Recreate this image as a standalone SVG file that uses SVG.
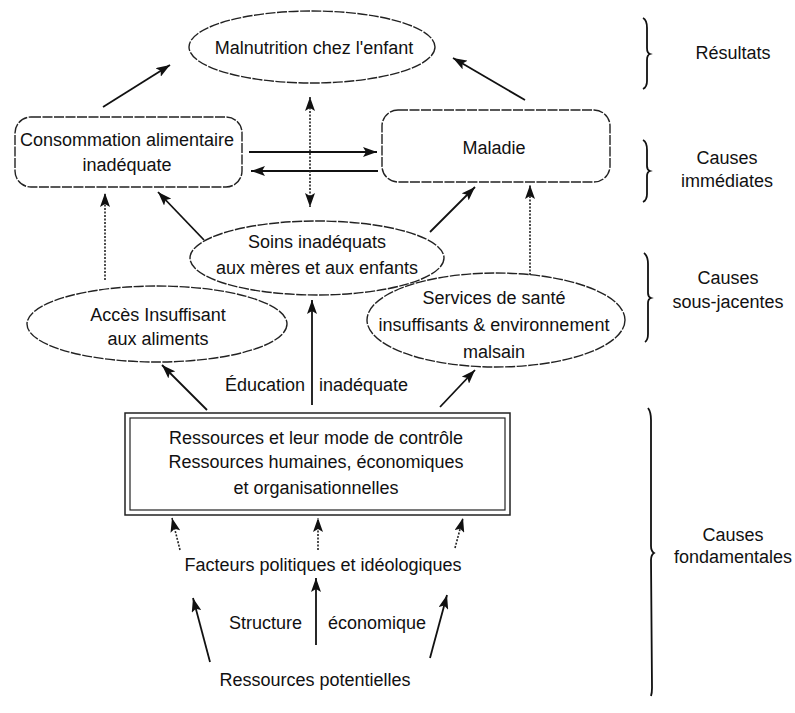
<svg xmlns="http://www.w3.org/2000/svg" width="795" height="713" viewBox="0 0 795 713">
<defs>
<style>
text{font-family:"Liberation Sans",Arial,sans-serif;font-size:18px;fill:#111;text-anchor:middle}
.sh{fill:none;stroke:#222;stroke-width:1.4;stroke-dasharray:10 1.5}
.ln{fill:none;stroke:#111;stroke-width:1.8}
.dt{fill:none;stroke:#222;stroke-width:1.6;stroke-dasharray:2 1.5}
.br{fill:none;stroke:#111;stroke-width:1.8}
</style>
<marker id="ah" viewBox="0 0 14 10" refX="14" refY="5" markerWidth="14" markerHeight="10" markerUnits="userSpaceOnUse" orient="auto-start-reverse">
<path d="M0,0 L14,5 L0,10 L3,5 z" fill="#111"/>
</marker>
</defs>
<rect width="795" height="713" fill="#fff"/>

<g id="connectors">
<line class="ln" x1="103" y1="107" x2="170" y2="65" marker-end="url(#ah)"/>
<line class="ln" x1="525" y1="100" x2="453" y2="58" marker-end="url(#ah)"/>
<line class="ln" x1="249" y1="152" x2="377" y2="152" marker-end="url(#ah)"/>
<line class="ln" x1="378" y1="171" x2="251" y2="171" marker-end="url(#ah)"/>
<line class="dt" x1="310" y1="97" x2="310" y2="207" marker-start="url(#ah)" marker-end="url(#ah)"/>
<line class="ln" x1="204" y1="240" x2="158" y2="192" marker-end="url(#ah)"/>
<line class="ln" x1="430" y1="232" x2="475" y2="187" marker-end="url(#ah)"/>
<line class="dt" x1="105" y1="280" x2="105" y2="193" marker-end="url(#ah)"/>
<line class="dt" x1="530" y1="275" x2="530" y2="185" marker-end="url(#ah)"/>
<line class="ln" x1="207" y1="410" x2="162" y2="365" marker-end="url(#ah)"/>
<line class="ln" x1="312" y1="405" x2="312" y2="300" marker-end="url(#ah)"/>
<line class="ln" x1="440" y1="407" x2="475" y2="370" marker-end="url(#ah)"/>
<line class="dt" x1="180" y1="550" x2="172" y2="518" marker-end="url(#ah)"/>
<line class="dt" x1="318" y1="550" x2="318" y2="518" marker-end="url(#ah)"/>
<line class="dt" x1="455" y1="548" x2="463" y2="518" marker-end="url(#ah)"/>
<line class="ln" x1="210" y1="662" x2="193" y2="598" marker-end="url(#ah)"/>
<line class="ln" x1="316" y1="645" x2="316" y2="578" marker-end="url(#ah)"/>
<line class="ln" x1="430" y1="658" x2="447" y2="595" marker-end="url(#ah)"/>
</g>

<g id="malnutrition">
<ellipse class="sh" cx="312" cy="47" rx="123" ry="36"/>
<text x="314" y="54">Malnutrition chez l'enfant</text>
</g>

<g id="consommation">
<rect class="sh" x="15" y="117" width="227" height="70" rx="16"/>
<text x="127" y="146">Consommation alimentaire</text>
<text x="127" y="171">inadéquate</text>
</g>

<g id="maladie">
<rect class="sh" x="382" y="110" width="228" height="72" rx="16"/>
<text x="494" y="154">Maladie</text>
</g>

<g id="soins">
<ellipse class="sh" cx="317" cy="258" rx="127" ry="37"/>
<text x="317" y="248">Soins inadéquats</text>
<text x="317" y="274">aux mères et aux enfants</text>
</g>

<g id="acces">
<ellipse class="sh" cx="157" cy="324" rx="130" ry="38"/>
<text x="158" y="321">Accès Insuffisant</text>
<text x="158" y="345">aux aliments</text>
</g>

<g id="services">
<ellipse class="sh" cx="496" cy="320" rx="129" ry="47"/>
<text x="494" y="304">Services de santé</text>
<text x="494" y="331">insuffisants &amp; environnement</text>
<text x="494" y="358">malsain</text>
</g>

<g id="education">
<text x="305" y="391" style="text-anchor:end">Éducation</text>
<text x="319" y="391" style="text-anchor:start">inadéquate</text>
</g>

<g id="ressources">
<rect x="125" y="413" width="385" height="102" fill="none" stroke="#222" stroke-width="1.5"/>
<rect x="130" y="418" width="375" height="92" fill="none" stroke="#222" stroke-width="1.2"/>
<text x="316" y="444">Ressources et leur mode de contrôle</text>
<text x="316" y="468">Ressources humaines, économiques</text>
<text x="316" y="494">et organisationnelles</text>
</g>

<g id="facteurs">
<text x="323" y="571">Facteurs politiques et idéologiques</text>
</g>

<g id="structure">
<text x="302" y="629" style="text-anchor:end">Structure</text>
<text x="328" y="629" style="text-anchor:start">économique</text>
</g>

<g id="potentielles">
<text x="315" y="686">Ressources potentielles</text>
</g>

<g id="levels">
<path class="br" d="M643,18 Q647,20 647,28 L647,48 Q647,53 650,54 Q647,55 647,60 L647,81 Q647,87 643,89"/>
<text x="733" y="59">Résultats</text>
<path class="br" d="M643,140 Q647,142 647,150 L647,166 Q647,170 650,171 Q647,172 647,176 L647,194 Q647,200 643,202"/>
<text x="727" y="164">Causes</text>
<text x="727" y="187">immédiates</text>
<path class="br" d="M644,253 Q648,256 648,264 L648,293 Q648,297 651,298 Q648,299 648,303 L648,334 Q648,340 645,342"/>
<text x="728" y="284">Causes</text>
<text x="728" y="308">sous-jacentes</text>
<path class="br" d="M648,408 Q651,412 651,420 L651,546 Q651,551 654,553 Q651,555 651,560 L652,688 Q652,693 651,696"/>
<text x="733" y="541">Causes</text>
<text x="733" y="563">fondamentales</text>
</g>
</svg>
